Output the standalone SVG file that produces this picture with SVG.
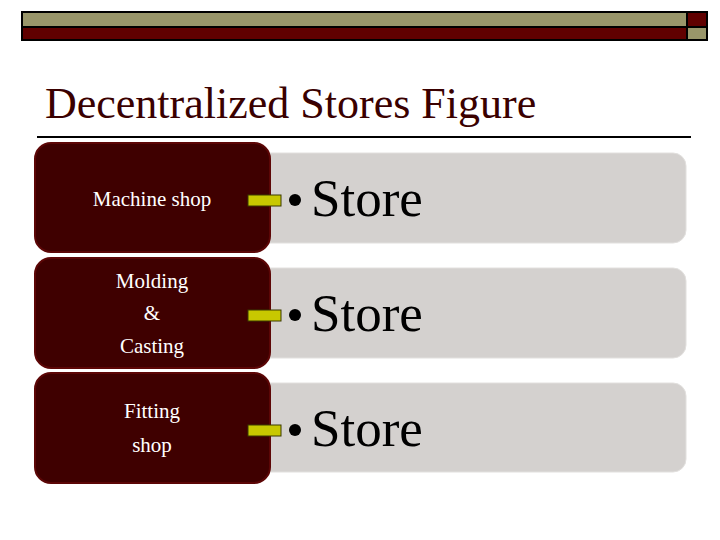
<svg xmlns="http://www.w3.org/2000/svg" width="720" height="540" viewBox="0 0 720 540">
<style>
.hdr{stroke:#000;stroke-width:2}
.dark{fill:#3f0000;stroke:#5c0606;stroke-width:2}
.light{fill:#d4d1cf;stroke:#e2e0de;stroke-width:1}
.conn{fill:#c8c800;stroke:#3a3a00;stroke-width:1}
text{font-family:'Liberation Serif','Times New Roman','DejaVu Serif',serif}
.lbl{font-size:21px;fill:#fff;text-anchor:middle}
.store{font-size:53px;fill:#000}
.title{font-size:44px;fill:#3a0000}
</style>
<rect width="720" height="540" fill="#fff"/>
<g id="header">
<rect x="22" y="12" width="665" height="15" fill="#99966a" class="hdr"/>
<rect x="687" y="12" width="20" height="15" fill="#600000" class="hdr"/>
<rect x="22" y="27" width="665" height="13" fill="#600000" class="hdr"/>
<rect x="687" y="27" width="20" height="13" fill="#99966a" class="hdr"/>
</g>
<g id="title">
<text x="45" y="118" class="title" font-family="Liberation Serif, serif">Decentralized Stores Figure</text>
<line x1="37" y1="137" x2="691" y2="137" stroke="#000" stroke-width="2"/>
</g>
<g id="store1">
<rect x="255" y="153" width="431" height="90" rx="13" class="light"/>
<circle cx="295" cy="200" r="6" fill="#000"/>
<text x="311" y="216" class="store" font-family="Liberation Serif, serif">Store</text>
</g>
<g id="store2">
<rect x="255" y="268" width="431" height="90" rx="13" class="light"/>
<circle cx="295" cy="315" r="6" fill="#000"/>
<text x="311" y="331" class="store" font-family="Liberation Serif, serif">Store</text>
</g>
<g id="store3">
<rect x="255" y="383" width="431" height="89" rx="13" class="light"/>
<circle cx="295" cy="430" r="6" fill="#000"/>
<text x="311" y="446" class="store" font-family="Liberation Serif, serif">Store</text>
</g>
<g id="machine-shop">
<rect x="35" y="143" width="235" height="109" rx="16" class="dark"/>
<text x="152" y="206" class="lbl" font-family="Liberation Serif, serif">Machine shop</text>
</g>
<g id="molding-casting">
<rect x="35" y="258" width="235" height="110" rx="16" class="dark"/>
<text x="152" y="288" class="lbl" font-family="Liberation Serif, serif">Molding</text>
<text x="152" y="320" class="lbl" font-family="Liberation Serif, serif">&amp;</text>
<text x="152" y="353" class="lbl" font-family="Liberation Serif, serif">Casting</text>
</g>
<g id="fitting-shop">
<rect x="35" y="373" width="235" height="110" rx="16" class="dark"/>
<text x="152" y="418" class="lbl" font-family="Liberation Serif, serif">Fitting</text>
<text x="152" y="452" class="lbl" font-family="Liberation Serif, serif">shop</text>
</g>
<g id="connectors">
<rect x="248" y="195" width="33" height="11" class="conn"/>
<rect x="248" y="310" width="33" height="11" class="conn"/>
<rect x="248" y="425" width="33" height="11" class="conn"/>
</g>
</svg>
